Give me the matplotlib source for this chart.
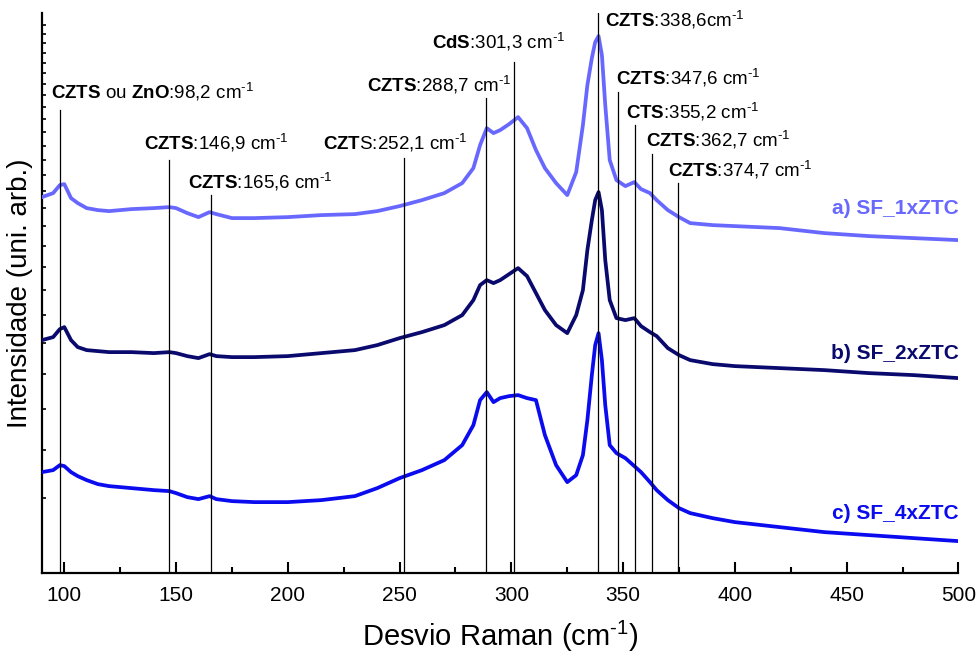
import numpy as np
import matplotlib
matplotlib.use("Agg")
import matplotlib.pyplot as plt

plt.rcParams['font.family'] = ['Liberation Sans', 'DejaVu Sans']
plt.rcParams['mathtext.fontset'] = 'custom'
plt.rcParams['mathtext.rm'] = 'Liberation Sans'
plt.rcParams['mathtext.it'] = 'Liberation Sans:italic'
plt.rcParams['mathtext.bf'] = 'Liberation Sans:bold'

# Raman shift grid (cm-1) shared by the three spectra
shift = [90, 95, 98, 100, 103, 106, 110, 115, 120, 130, 140, 147, 150, 155, 160,
         165, 168, 175, 185, 200, 215, 230, 240, 250, 260, 270, 278, 283, 286, 289,
         292, 295, 299, 303, 307, 311, 315, 320, 325, 329, 332, 334, 336, 337.5, 339,
         340.5, 342, 344, 347, 351, 355, 358, 362, 365, 370, 375, 380, 390, 400, 420,
         440, 460, 480, 500]

# stacked intensities (arb. units, offsets included)
sf_1x = [376, 380, 388, 389, 375, 370, 365, 363, 362, 364, 365, 366, 365, 360, 356,
         361, 359, 355, 355, 356, 358, 359, 362, 367, 373, 380, 390, 405, 428, 445,
         440, 443, 449, 456, 445, 423, 405, 390, 378, 401, 448, 488, 515, 531, 537,
         518, 468, 413, 393, 387, 391, 384, 380, 373, 363, 356, 350, 348, 347, 345,
         340, 337, 335, 333]
sf_2x = [233, 236, 244, 246, 233, 226, 223, 222, 221, 221, 220, 221, 220, 217, 215,
         219, 217, 216, 216, 217, 220, 223, 228, 235, 241, 248, 258, 273, 288, 293,
         290, 293, 299, 305, 297, 280, 263, 248, 240, 258, 283, 323, 353, 373, 381,
         363, 313, 273, 255, 253, 255, 247, 241, 237, 225, 218, 213, 209, 207, 205,
         203, 200, 198, 195]
sf_4x = [101, 103, 108, 107, 101, 97, 93, 89, 87, 85, 83, 82, 80, 76, 74,
         77, 74, 72, 71, 71, 73, 77, 85, 95, 103, 113, 128, 148, 173, 181,
         171, 175, 177, 178, 175, 173, 138, 108, 91, 98, 118, 153, 198, 228, 240,
         213, 168, 128, 120, 115, 107, 101, 91, 83, 73, 65, 60, 55, 51, 46,
         41, 38, 35, 32]

series_names = ['a) SF_1xZTC', 'b) SF_2xZTC', 'c) SF_4xZTC']
series_colors = ['#6868FF', '#0A0A6E', '#0B0BF0']
name_y = [365, 220, 60]

# assigned Raman modes
peak_pos = [98.2, 146.9, 165.6, 252.1, 288.7, 301.3, 338.6, 347.6, 355.2, 362.7, 374.7]
peak_top = [463, 413, 378, 415, 475, 511, 560, 481, 448, 419, 390]
cm = r'cm$^{\text{-}1}$'
peak_text = [r'$\mathbf{CZTS}$ ou $\mathbf{ZnO}$:98,2 ' + cm,
             r'$\mathbf{CZTS}$:146,9 ' + cm,
             r'$\mathbf{CZTS}$:165,6 ' + cm,
             r'$\mathbf{CZT}$S:252,1 ' + cm,
             r'$\mathbf{CZTS}$:288,7 ' + cm,
             r'$\mathbf{CdS}$:301,3 ' + cm,
             r'$\mathbf{CZTS}$:338,6' + cm,
             r'$\mathbf{CZTS}$:347,6 ' + cm,
             r'$\mathbf{CTS}$:355,2 ' + cm,
             r'$\mathbf{CZTS}$:362,7 ' + cm,
             r'$\mathbf{CZTS}$:374,7 ' + cm]
label_x = [94.2, 135.7, 155.4, 215.6, 235.3, 264.7, 342.0, 346.9, 351.3, 360.3, 370.1]
label_y = [481, 430, 391, 430, 488, 531, 553, 495, 461, 433, 403]

fig = plt.figure(figsize=(9.76, 6.55), dpi=100)
ax = fig.add_axes([0.043, 0.125, 0.939, 0.855])

for y, c in zip([sf_1x, sf_2x, sf_4x], series_colors):
    ax.plot(shift, y, color=c, linewidth=2.7, solid_joinstyle='round', zorder=3)

for p, top in zip(peak_pos, peak_top):
    ax.plot([p, p], [0, top], color='black', linewidth=0.9, zorder=4)

for tx, ty, t in zip(label_x, label_y, peak_text):
    ax.text(tx, ty, t, fontsize=13.5, ha='left', va='center', zorder=5)

for name, c, ny in zip(series_names, series_colors, name_y):
    ax.text(500, ny, name, color=c, fontsize=15, fontweight='bold',
            ha='right', va='center')

ax.set_xlim(90, 500)
ax.set_ylim(0, 560)
ax.set_xticks(np.arange(100, 501, 50))
ax.set_xticks(np.arange(125, 500, 50), minor=True)
# log-like spacing of the unlabelled intensity ticks
ytick_k = np.arange(5, 31)
ax.set_yticks(75 + 264 * np.log(ytick_k / 5))
ax.set_yticklabels([])
ax.tick_params(axis='x', which='major', direction='in', length=8, width=1.5,
               labelsize=15, pad=9)
ax.tick_params(axis='x', which='minor', direction='in', length=4, width=1.5)
ax.tick_params(axis='y', direction='in', length=3, width=1.2)

for s in ['top', 'right']:
    ax.spines[s].set_visible(False)
for s in ['left', 'bottom']:
    ax.spines[s].set_linewidth(1.6)

ax.set_xlabel(r'Desvio Raman (cm$^{\text{-}1}$)', fontsize=21, labelpad=10)
ax.set_ylabel('Intensidade (uni. arb.)', fontsize=20, labelpad=3)

fig.savefig('out.png', dpi=100)
